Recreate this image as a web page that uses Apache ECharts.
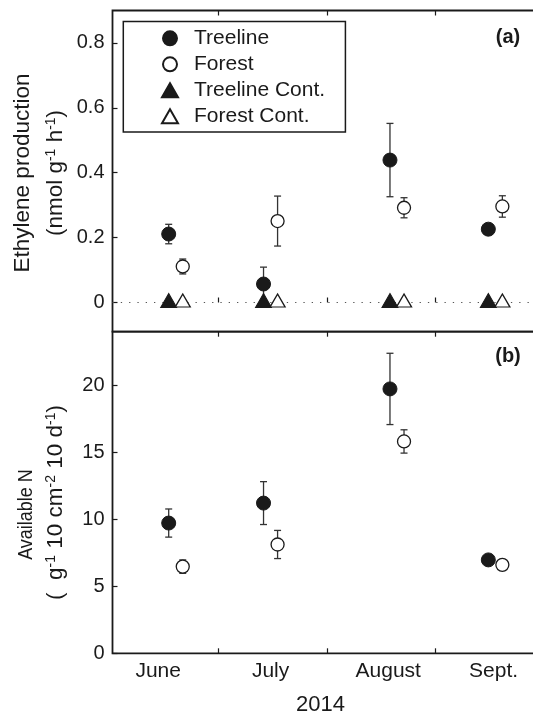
<!DOCTYPE html>
<html>
<head>
<meta charset="utf-8">
<script src="https://cdn.jsdelivr.net/npm/echarts@6/dist/echarts.min.js"></script>
<style>
html,body{margin:0;padding:0;background:#fff;}
#chart{width:533px;height:715px;}
</style>
</head>
<body>
<div id="chart"></div>
<script>
// x positions: days since 1 June 2014
const treelineX = [16, 43, 79, 107];
const forestX = [20, 47, 83, 111];
const monthLabels = ['June', 'July', 'August', 'Sept.'];
const monthLabelPos = [13, 45, 78.5, 108.5];
const monthTicks = [30, 61, 92];
const ethTicks = [0, 0.2, 0.4, 0.6, 0.8];
const nTicks = [0, 5, 10, 15, 20];

// (a) Ethylene production (nmol g-1 h-1)
const ethTreeline = [0.211, 0.057, 0.439, 0.226];
const ethTreelineErr = [0.030, 0.052, 0.113, 0.016];
const ethForest = [0.111, 0.251, 0.292, 0.296];
const ethForestErr = [0.023, 0.077, 0.031, 0.033];
const ethTreelineCont = [0, 0, 0, 0];
const ethForestCont = [0, 0, 0, 0];

// (b) Available N
const nTreeline = [9.72, 11.21, 19.73, 6.97];
const nTreelineErr = [1.05, 1.60, 2.66, 0.20];
const nForest = [6.47, 8.12, 15.81, 6.60];
const nForestErr = [0.50, 1.05, 0.87, 0.20];

const FONT = '"Liberation Sans", Arial, Helvetica, sans-serif';
const INK = '#1a1a1a';

function pts(xs, ys) { return xs.map((x, i) => [x, ys[i]]); }
function errPts(xs, ys, es) { return xs.map((x, i) => [x, ys[i], es[i]]); }

function errRender(params, api) {
  const x = api.value(0), y = api.value(1), e = api.value(2);
  const t = api.coord([x, y + e]);
  const b = api.coord([x, y - e]);
  const w = 3.5;
  const st = { stroke: '#333', lineWidth: 1.3 };
  return {
    type: 'group',
    children: [
      { type: 'line', shape: { x1: t[0], y1: t[1], x2: b[0], y2: b[1] }, style: st },
      { type: 'line', shape: { x1: t[0] - w, y1: t[1], x2: t[0] + w, y2: t[1] }, style: st },
      { type: 'line', shape: { x1: b[0] - w, y1: b[1], x2: b[0] + w, y2: b[1] }, style: st }
    ]
  };
}

const gridL = 112.5, gridW = 428.5;
const tickStyle = { color: INK, width: 1.2 };

function xAx(gridIndex, position, withLabels) {
  return {
    type: 'value', gridIndex: gridIndex, position: position, min: 0, max: 122,
    axisLine: { show: false },
    splitLine: { show: false },
    axisTick: { show: true, inside: true, length: 5, lineStyle: tickStyle, customValues: monthTicks },
    axisLabel: withLabels ? {
      show: true, customValues: monthLabelPos, margin: 7,
      fontFamily: FONT, fontSize: 21, color: INK,
      formatter: function (v) { const i = monthLabelPos.indexOf(v); return i >= 0 ? monthLabels[i] : ''; }
    } : { show: false }
  };
}

function yAx(gridIndex, min, max, ticks, fmt) {
  return {
    type: 'value', gridIndex: gridIndex, min: min, max: max,
    axisLine: { show: false },
    splitLine: { show: false },
    axisTick: { show: true, inside: true, length: 5, lineStyle: tickStyle, customValues: ticks },
    axisLabel: { show: true, customValues: ticks, margin: 8, fontFamily: FONT, fontSize: 20, color: INK, formatter: fmt }
  };
}

const filled = { color: INK, borderColor: INK, borderWidth: 1, opacity: 1 };
const open = { color: '#fff', borderColor: INK, borderWidth: 1.3, opacity: 1 };

const supRich = {
  n: { fontFamily: FONT, fontSize: 22.5, fill: INK },
  s: { fontFamily: FONT, fontSize: 14, fill: INK, padding: [0, 0, 9, 0] }
};

const option = {
  animation: false,
  backgroundColor: '#fff',
  grid: [
    { left: gridL, top: 10.5, width: gridW, height: 321.2, show: true, borderColor: INK, borderWidth: 1.8, backgroundColor: 'transparent', outerBoundsMode: 'none', containLabel: false },
    { left: gridL, top: 331.7, width: gridW, height: 321.6, show: true, borderColor: INK, borderWidth: 1.8, backgroundColor: 'transparent', outerBoundsMode: 'none', containLabel: false }
  ],
  xAxis: [xAx(0, 'bottom', false), xAx(0, 'top', false), xAx(1, 'bottom', true), xAx(1, 'top', false)],
  yAxis: [
    yAx(0, -0.09, 0.9, ethTicks, function (v) { return v === 0 ? '0' : v.toFixed(1); }),
    yAx(1, 0, 24, nTicks, function (v) { return String(v); })
  ],
  legend: {
    data: ['Treeline', 'Forest', 'Treeline Cont.', 'Forest Cont.'],
    orient: 'vertical', left: 123.3, top: 21.5,
    padding: [6.3, 20.3, 5.1, 37.7],
    itemWidth: 16, itemHeight: 14, itemGap: 5,
    borderColor: INK, borderWidth: 1.5, backgroundColor: '#fff', borderRadius: 0,
    textStyle: { fontFamily: FONT, fontSize: 21, lineHeight: 21, color: INK, padding: [0, 0, 0, 11] },
    selectedMode: false
  },
  graphic: [
    { type: 'text', x: 508, y: 37.5, style: { text: '(a)', font: 'bold 20px ' + FONT, fill: INK, textAlign: 'center', textVerticalAlign: 'middle' } },
    { type: 'text', x: 508, y: 356, style: { text: '(b)', font: 'bold 20px ' + FONT, fill: INK, textAlign: 'center', textVerticalAlign: 'middle' } },
    { type: 'text', x: 320.5, y: 705, style: { text: '2014', font: '22px ' + FONT, fill: INK, textAlign: 'center', textVerticalAlign: 'middle' } },
    { type: 'text', x: 22.5, y: 173, rotation: Math.PI / 2, style: { text: 'Ethylene production', font: '22.5px ' + FONT, fill: INK, textAlign: 'center', textVerticalAlign: 'middle' } },
    { type: 'text', x: 56, y: 173, rotation: Math.PI / 2, style: {
        text: '{n|(nmol g}{s|-1}{n| h}{s|-1}{n|)}', fill: INK, textAlign: 'center', textVerticalAlign: 'middle', rich: supRich } },
    { type: 'text', x: 26.5, y: 514.5, rotation: Math.PI / 2, scaleX: 0.9, style: { text: 'Available N', font: '20px ' + FONT, fill: INK, textAlign: 'center', textVerticalAlign: 'middle' } },
    { type: 'text', x: 56, y: 502.5, rotation: Math.PI / 2, style: {
        text: '{n|(  g}{s|-1}{n| 10 cm}{s|-2}{n| 10 d}{s|-1}{n|)}', fill: INK, textAlign: 'center', textVerticalAlign: 'middle', rich: supRich } }
  ],
  series: [
    { type: 'custom', name: 'errA1', xAxisIndex: 0, yAxisIndex: 0, renderItem: errRender, encode: { x: 0, y: [1] }, data: errPts(treelineX, ethTreeline, ethTreelineErr), z: 1, silent: true },
    { type: 'custom', name: 'errA2', xAxisIndex: 0, yAxisIndex: 0, renderItem: errRender, encode: { x: 0, y: [1] }, data: errPts(forestX, ethForest, ethForestErr), z: 1, silent: true },
    { type: 'custom', name: 'errB1', xAxisIndex: 2, yAxisIndex: 1, renderItem: errRender, encode: { x: 0, y: [1] }, data: errPts(treelineX, nTreeline, nTreelineErr), z: 1, silent: true },
    { type: 'custom', name: 'errB2', xAxisIndex: 2, yAxisIndex: 1, renderItem: errRender, encode: { x: 0, y: [1] }, data: errPts(forestX, nForest, nForestErr), z: 1, silent: true },
    { type: 'scatter', name: 'Treeline Cont.', xAxisIndex: 0, yAxisIndex: 0, symbol: 'triangle', symbolSize: [16, 14], symbolOffset: [0, -2],
      itemStyle: filled, data: pts(treelineX, ethTreelineCont), z: 3,
      markLine: { silent: true, symbol: ['none', 'none'], label: { show: false }, z: 1,
        lineStyle: { color: '#555', width: 1.2, type: [1.3, 7] }, data: [{ yAxis: 0 }] } },
    { type: 'scatter', name: 'Forest Cont.', xAxisIndex: 0, yAxisIndex: 0, symbol: 'triangle', symbolSize: [15, 13], symbolOffset: [0, -2],
      itemStyle: open, data: pts(forestX, ethForestCont), z: 4 },
    { type: 'scatter', name: 'Treeline', xAxisIndex: 0, yAxisIndex: 0, symbol: 'circle', symbolSize: 14, itemStyle: filled, data: pts(treelineX, ethTreeline), z: 5 },
    { type: 'scatter', name: 'Forest', xAxisIndex: 0, yAxisIndex: 0, symbol: 'circle', symbolSize: 13, itemStyle: open, data: pts(forestX, ethForest), z: 5 },
    { type: 'scatter', name: 'Treeline', xAxisIndex: 2, yAxisIndex: 1, symbol: 'circle', symbolSize: 14, itemStyle: filled, data: pts(treelineX, nTreeline), z: 5 },
    { type: 'scatter', name: 'Forest', xAxisIndex: 2, yAxisIndex: 1, symbol: 'circle', symbolSize: 13, itemStyle: open, data: pts(forestX, nForest), z: 5 }
  ]
};

const chart = echarts.init(document.getElementById('chart'), null, { renderer: 'canvas' });
chart.setOption(option);
</script>
</body>
</html>
